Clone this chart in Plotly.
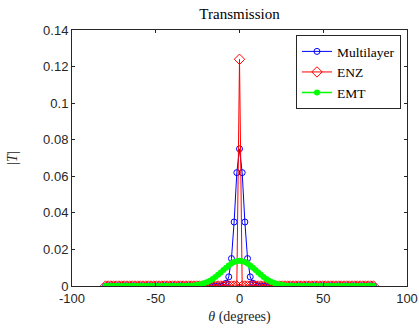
import plotly.graph_objects as go

theta = [
    -80.0, -78.4, -76.8, -75.2, -73.6, -72.0, -70.4, -68.8, -67.2, -65.6,
    -64.0, -62.4, -60.8, -59.2, -57.6, -56.0, -54.4, -52.8, -51.2, -49.6,
    -48.0, -46.4, -44.8, -43.2, -41.6, -40.0, -38.4, -36.8, -35.2, -33.6,
    -32.0, -30.4, -28.8, -27.2, -25.6, -24.0, -22.4, -20.8, -19.2, -17.6,
    -16.0, -14.4, -12.8, -11.2, -9.6, -8.0, -6.4, -4.8, -3.2, -1.6,
    0.0,
    1.6, 3.2, 4.8, 6.4, 8.0, 9.6, 11.2, 12.8, 14.4, 16.0,
    17.6, 19.2, 20.8, 22.4, 24.0, 25.6, 27.2, 28.8, 30.4, 32.0,
    33.6, 35.2, 36.8, 38.4, 40.0, 41.6, 43.2, 44.8, 46.4, 48.0,
    49.6, 51.2, 52.8, 54.4, 56.0, 57.6, 59.2, 60.8, 62.4, 64.0,
    65.6, 67.2, 68.8, 70.4, 72.0, 73.6, 75.2, 76.8, 78.4, 80.0,
]

multilayer = [
    0, 0, 0, 0, 0, 0, 0, 0, 0, 0,
    0, 0, 0, 0, 0, 0, 0, 0, 0, 0,
    0, 0, 0, 0, 0, 0, 0, 0, 0, 0,
    0, 0, 0, 0, 0, 0, 0, 0, 0, 0,
    0, 0, 0, 0, 0.0005, 0.0015, 0.005, 0.015, 0.035, 0.062,
    0.075,
    0.062, 0.035, 0.015, 0.005, 0.0015, 0.0005, 0, 0, 0, 0,
    0, 0, 0, 0, 0, 0, 0, 0, 0, 0,
    0, 0, 0, 0, 0, 0, 0, 0, 0, 0,
    0, 0, 0, 0, 0, 0, 0, 0, 0, 0,
    0, 0, 0, 0, 0, 0, 0, 0, 0, 0,
]

enz = [
    0, 0, 0, 0, 0, 0, 0, 0, 0, 0,
    0, 0, 0, 0, 0, 0, 0, 0, 0, 0,
    0, 0, 0, 0, 0, 0, 0, 0, 0, 0,
    0, 0, 0, 0, 0, 0, 0, 0, 0, 0,
    0, 0, 0, 0, 0, 0, 0, 0, 0, 0,
    0.124,
    0, 0, 0, 0, 0, 0, 0, 0, 0, 0,
    0, 0, 0, 0, 0, 0, 0, 0, 0, 0,
    0, 0, 0, 0, 0, 0, 0, 0, 0, 0,
    0, 0, 0, 0, 0, 0, 0, 0, 0, 0,
    0, 0, 0, 0, 0, 0, 0, 0, 0, 0,
]

emt = [
    0, 0, 0, 0, 0, 0, 0, 0, 0, 0,
    0, 0, 0, 0, 0, 0, 0, 0, 0, 0,
    0, 0, 0, 0, 0, 0, 0, 0, 0, 0,
    0, 0.0001, 0.0002, 0.0003, 0.0005, 0.0008, 0.0011, 0.0016, 0.0022, 0.0029,
    0.0038, 0.0049, 0.0061, 0.0074, 0.0087, 0.0100, 0.0112, 0.0123, 0.0131, 0.0136,
    0.0138,
    0.0136, 0.0131, 0.0123, 0.0112, 0.0100, 0.0087, 0.0074, 0.0061, 0.0049, 0.0038,
    0.0029, 0.0022, 0.0016, 0.0011, 0.0008, 0.0005, 0.0003, 0.0002, 0.0001, 0,
    0, 0, 0, 0, 0, 0, 0, 0, 0, 0,
    0, 0, 0, 0, 0, 0, 0, 0, 0, 0,
    0, 0, 0, 0, 0, 0, 0, 0, 0, 0,
]

x_ticks = [-100, -50, 0, 50, 100]
x_ticktext = ["-100", "-50", "0", "50", "100"]
y_ticks = [0, 0.02, 0.04, 0.06, 0.08, 0.1, 0.12, 0.14]
y_ticktext = ["0", "0.02", "0.04", "0.06", "0.08", "0.1", "0.12", "0.14"]

SERIF = "Liberation Serif, DejaVu Serif, serif"
SANS = "Liberation Sans, Arial, sans-serif"
AX = "#262626"

fig = go.Figure()
fig.add_trace(go.Scatter(
    x=theta, y=multilayer, name="Multilayer", mode="lines+markers",
    line=dict(color="rgb(0,0,255)", width=1),
    marker=dict(symbol="circle-open", size=6, color="rgb(0,0,255)", line=dict(width=1)),
))
fig.add_trace(go.Scatter(
    x=theta, y=enz, name="ENZ", mode="lines+markers",
    line=dict(color="rgb(255,0,0)", width=1),
    marker=dict(symbol="diamond-open", size=8, color="rgb(255,0,0)", line=dict(width=1)),
))
fig.add_trace(go.Scatter(
    x=theta, y=emt, name="EMT", mode="lines+markers",
    line=dict(color="rgb(0,255,0)", width=1.5),
    marker=dict(symbol="circle", size=6, color="rgb(0,255,0)", line=dict(width=0)),
))

fig.update_layout(
    width=419, height=331,
    margin=dict(l=72, r=12, t=30, b=45, autoexpand=False),
    paper_bgcolor="white", plot_bgcolor="white",
    title=dict(text="Transmission", x=0.5, xref="paper", xanchor="center",
               y=1, yref="container", yanchor="top", pad=dict(t=8),
               font=dict(family=SERIF, size=15, color="black")),
    showlegend=True,
    legend=dict(x=0.982, y=0.98, xanchor="right", yanchor="top",
                bgcolor="white", bordercolor=AX, borderwidth=1,
                font=dict(family=SERIF, size=13.5, color="black"),
                tracegroupgap=0),
    xaxis=dict(range=[-100, 100], tickvals=x_ticks, ticktext=x_ticktext,
               ticks="inside", ticklen=3, tickcolor=AX, mirror="ticks",
               showline=True, linecolor=AX, linewidth=1, showgrid=False, zeroline=False,
               automargin=False,
               tickfont=dict(family=SANS, size=13, color=AX),
               title=dict(text="<i>θ</i> (degrees)", standoff=6,
                          font=dict(family=SERIF, size=14, color=AX))),
    yaxis=dict(range=[0, 0.14], tickvals=y_ticks, ticktext=y_ticktext,
               ticks="inside", ticklen=3, tickcolor=AX, mirror="ticks",
               showline=True, linecolor=AX, linewidth=1, showgrid=False, zeroline=False,
               automargin=False,
               tickfont=dict(family=SANS, size=13, color=AX),
               title=dict(text="|<i>T</i>|", standoff=22,
                          font=dict(family=SERIF, size=14, color=AX))),
)

fig.write_html("out.html", config={"displayModeBar": False},
               post_script="document.body.style.margin='0';document.body.style.overflow='hidden';")
